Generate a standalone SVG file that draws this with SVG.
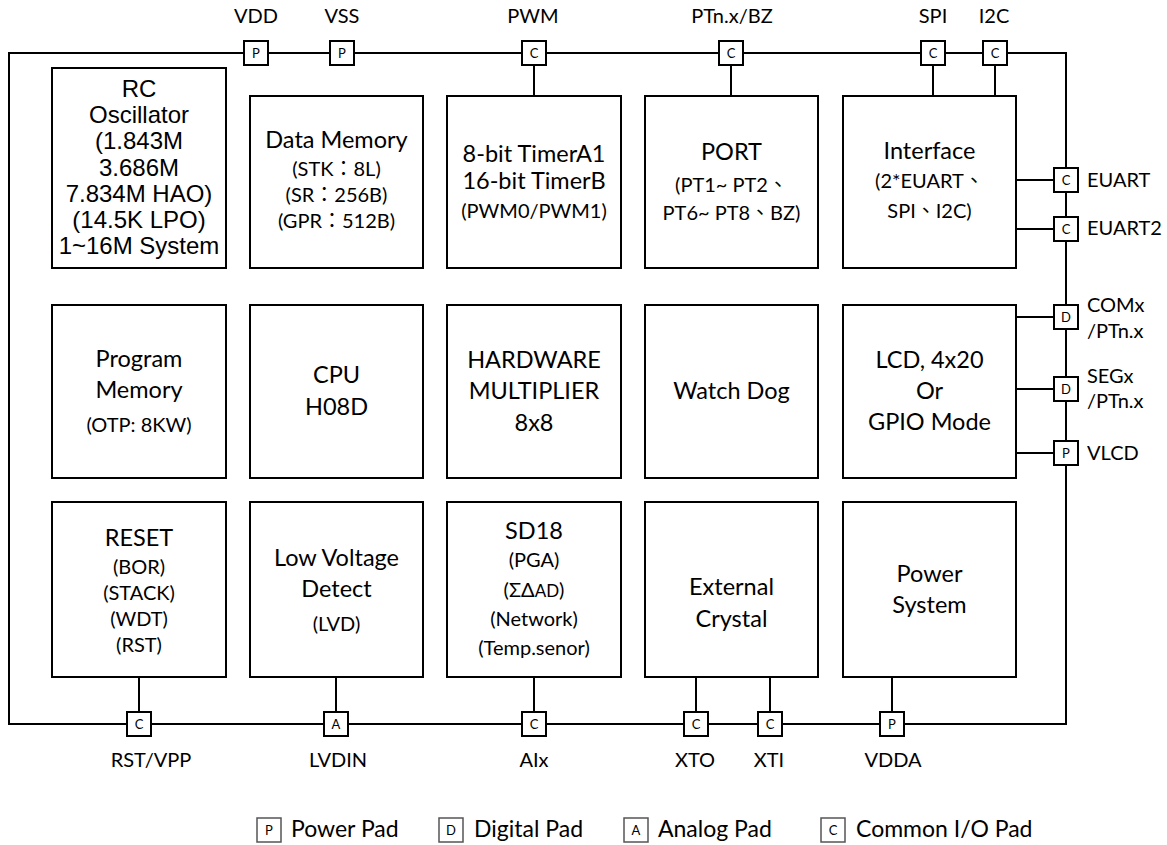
<svg xmlns="http://www.w3.org/2000/svg" width="1167" height="845" viewBox="0 0 1167 845">
<style>
.box{fill:#fff;stroke:#000;stroke-width:2}
.pad{fill:#fff;stroke:#000;stroke-width:2}
.wire{fill:none;stroke:#000;stroke-width:2}
.t{font-family:Lato,'Noto Sans CJK TC',sans-serif;fill:#000;text-anchor:middle}
.m{font-size:23.5px}
.s{font-size:20px}
.a{font-family:'Liberation Sans',Arial,sans-serif;font-size:24px;fill:#000;text-anchor:middle}
.pl{font-family:Lato,sans-serif;font-size:13px;text-anchor:middle;fill:#000}
.lbl{font-family:Lato,sans-serif;font-size:20px;fill:#000}
.lc{text-anchor:middle}
.lg{fill:#fff;stroke:#555;stroke-width:1.5}
.lgt{font-family:Lato,sans-serif;font-size:23px;fill:#000}
</style>

<g id="connectors">
  <path class="wire" d="M9,53 H1066 V724 H9 Z"/>
  <path class="wire" d="M534,65 V96 M731,65 V96 M933,65 V96 M995,65 V96"/>
  <path class="wire" d="M1016,180 H1054 M1016,229 H1054 M1016,317 H1054 M1016,389 H1054 M1016,453 H1054"/>
  <path class="wire" d="M139,677 V712 M336,677 V712 M534,677 V712 M696,677 V712 M770,677 V712 M892,677 V712"/>
</g>

<g id="rc-osc">
  <rect class="box" x="52" y="68" width="174" height="200"/>
  <text class="a" x="139" y="97">RC</text>
  <text class="a" x="139" y="123">Oscillator</text>
  <text class="a" x="139" y="149">(1.843M</text>
  <text class="a" x="139" y="176">3.686M</text>
  <text class="a" x="139" y="202">7.834M HAO)</text>
  <text class="a" x="139" y="228">(14.5K LPO)</text>
  <text class="a" x="139" y="254">1~16M System</text>
</g>
<g id="data-memory">
  <rect class="box" x="250" y="96" width="173" height="172"/>
  <text class="t m" x="336.5" y="148">Data Memory</text>
  <text class="t s" x="336.5" y="176">(STK：8L)</text>
  <text class="t s" x="336.5" y="202">(SR：256B)</text>
  <text class="t s" x="336.5" y="228">(GPR：512B)</text>
</g>
<g id="timer">
  <rect class="box" x="447" y="96" width="174" height="172"/>
  <text class="t m" x="534" y="162">8-bit TimerA1</text>
  <text class="t m" x="534" y="189">16-bit TimerB</text>
  <text class="t s" x="534" y="218">(PWM0/PWM1)</text>
</g>
<g id="port">
  <rect class="box" x="645" y="96" width="173" height="172"/>
  <text class="t m" x="731.5" y="160">PORT</text>
  <text class="t s" x="731.5" y="192">(PT1~ PT2、</text>
  <text class="t s" x="731.5" y="220">PT6~ PT8、BZ)</text>
</g>
<g id="interface">
  <rect class="box" x="843" y="96" width="173" height="172"/>
  <text class="t m" x="929.5" y="159">Interface</text>
  <text class="t s" x="929.5" y="188">(2*EUART、</text>
  <text class="t s" x="929.5" y="218">SPI、I2C)</text>
</g>

<g id="program-memory">
  <rect class="box" x="52" y="305" width="174" height="173"/>
  <text class="t m" x="139" y="367">Program</text>
  <text class="t m" x="139" y="398">Memory</text>
  <text class="t s" x="139" y="432">(OTP: 8KW)</text>
</g>
<g id="cpu">
  <rect class="box" x="250" y="305" width="173" height="173"/>
  <text class="t m" x="336.5" y="383">CPU</text>
  <text class="t m" x="336.5" y="415">H08D</text>
</g>
<g id="multiplier">
  <rect class="box" x="447" y="305" width="174" height="173"/>
  <text class="t m" x="534" y="368">HARDWARE</text>
  <text class="t m" x="534" y="399">MULTIPLIER</text>
  <text class="t m" x="534" y="431">8x8</text>
</g>
<g id="watchdog">
  <rect class="box" x="645" y="305" width="173" height="173"/>
  <text class="t m" x="731.5" y="399">Watch Dog</text>
</g>
<g id="lcd">
  <rect class="box" x="843" y="305" width="173" height="173"/>
  <text class="t m" x="929.5" y="368">LCD, 4x20</text>
  <text class="t m" x="929.5" y="399">Or</text>
  <text class="t m" x="929.5" y="430">GPIO Mode</text>
</g>

<g id="reset">
  <rect class="box" x="52" y="502" width="174" height="175"/>
  <text class="t m" x="139" y="546">RESET</text>
  <text class="t s" x="139" y="574">(BOR)</text>
  <text class="t s" x="139" y="600">(STACK)</text>
  <text class="t s" x="139" y="626">(WDT)</text>
  <text class="t s" x="139" y="652">(RST)</text>
</g>
<g id="lvd">
  <rect class="box" x="250" y="502" width="173" height="175"/>
  <text class="t m" x="336.5" y="566">Low Voltage</text>
  <text class="t m" x="336.5" y="597">Detect</text>
  <text class="t s" x="336.5" y="631">(LVD)</text>
</g>
<g id="sd18">
  <rect class="box" x="447" y="502" width="174" height="175"/>
  <text class="t m" x="534" y="539">SD18</text>
  <text class="t s" x="534" y="567">(PGA)</text>
  <text class="t s" x="534" y="597">(ΣΔ<tspan font-size="17">AD</tspan>)</text>
  <text class="t s" x="534" y="626">(Network)</text>
  <text class="t s" x="534" y="655">(Temp.senor)</text>
</g>
<g id="crystal">
  <rect class="box" x="645" y="502" width="173" height="175"/>
  <text class="t m" x="731.5" y="595">External</text>
  <text class="t m" x="731.5" y="627">Crystal</text>
</g>
<g id="power">
  <rect class="box" x="843" y="502" width="173" height="175"/>
  <text class="t m" x="929.5" y="582">Power</text>
  <text class="t m" x="929.5" y="613">System</text>
</g>

<g id="pad-vdd"><rect class="pad" x="244" y="41" width="24" height="24"/><text class="pl" x="256" y="58">P</text><text class="lbl lc" x="256" y="23">VDD</text></g>
<g id="pad-vss"><rect class="pad" x="330" y="41" width="24" height="24"/><text class="pl" x="342" y="58">P</text><text class="lbl lc" x="342" y="23">VSS</text></g>
<g id="pad-pwm"><rect class="pad" x="522" y="41" width="24" height="24"/><text class="pl" x="534" y="58">C</text><text class="lbl lc" x="533" y="23">PWM</text></g>
<g id="pad-bz"><rect class="pad" x="719" y="41" width="24" height="24"/><text class="pl" x="731" y="58">C</text><text class="lbl lc" x="732" y="23">PTn.x/BZ</text></g>
<g id="pad-spi"><rect class="pad" x="921" y="41" width="24" height="24"/><text class="pl" x="933" y="58">C</text><text class="lbl lc" x="933" y="23">SPI</text></g>
<g id="pad-i2c"><rect class="pad" x="983" y="41" width="24" height="24"/><text class="pl" x="995" y="58">C</text><text class="lbl lc" x="994" y="23">I2C</text></g>

<g id="pad-euart"><rect class="pad" x="1054" y="168" width="24" height="24"/><text class="pl" x="1066" y="185">C</text><text class="lbl" x="1087" y="187">EUART</text></g>
<g id="pad-euart2"><rect class="pad" x="1054" y="217" width="24" height="24"/><text class="pl" x="1066" y="234">C</text><text class="lbl" x="1087" y="235">EUART2</text></g>
<g id="pad-com"><rect class="pad" x="1054" y="305" width="24" height="24"/><text class="pl" x="1066" y="322">D</text><text class="lbl" x="1087" y="312">COMx</text><text class="lbl" x="1087" y="338">/PTn.x</text></g>
<g id="pad-seg"><rect class="pad" x="1054" y="377" width="24" height="24"/><text class="pl" x="1066" y="394">D</text><text class="lbl" x="1087" y="383">SEGx</text><text class="lbl" x="1087" y="408">/PTn.x</text></g>
<g id="pad-vlcd"><rect class="pad" x="1054" y="441" width="24" height="24"/><text class="pl" x="1066" y="458">P</text><text class="lbl" x="1087" y="460">VLCD</text></g>

<g id="pad-rst"><rect class="pad" x="127" y="712" width="24" height="24"/><text class="pl" x="139" y="729">C</text><text class="lbl lc" x="151" y="767">RST/VPP</text></g>
<g id="pad-lvdin"><rect class="pad" x="324" y="712" width="24" height="24"/><text class="pl" x="336" y="729">A</text><text class="lbl lc" x="338" y="767">LVDIN</text></g>
<g id="pad-aix"><rect class="pad" x="522" y="712" width="24" height="24"/><text class="pl" x="534" y="729">C</text><text class="lbl lc" x="534" y="767">AIx</text></g>
<g id="pad-xto"><rect class="pad" x="684" y="712" width="24" height="24"/><text class="pl" x="696" y="729">C</text><text class="lbl lc" x="695" y="767">XTO</text></g>
<g id="pad-xti"><rect class="pad" x="758" y="712" width="24" height="24"/><text class="pl" x="770" y="729">C</text><text class="lbl lc" x="769" y="767">XTI</text></g>
<g id="pad-vdda"><rect class="pad" x="880" y="712" width="24" height="24"/><text class="pl" x="892" y="729">P</text><text class="lbl lc" x="893" y="767">VDDA</text></g>

<g id="legend">
  <rect class="lg" x="257" y="818" width="24" height="24"/><text class="pl" x="269" y="835">P</text><text class="lgt" x="291" y="837">Power Pad</text>
  <rect class="lg" x="439" y="818" width="24" height="24"/><text class="pl" x="451" y="835">D</text><text class="lgt" x="474" y="837">Digital Pad</text>
  <rect class="lg" x="624" y="818" width="24" height="24"/><text class="pl" x="636" y="835">A</text><text class="lgt" x="658" y="837">Analog Pad</text>
  <rect class="lg" x="821" y="818" width="24" height="24"/><text class="pl" x="833" y="835">C</text><text class="lgt" x="856" y="837">Common I/O Pad</text>
</g>
</svg>
